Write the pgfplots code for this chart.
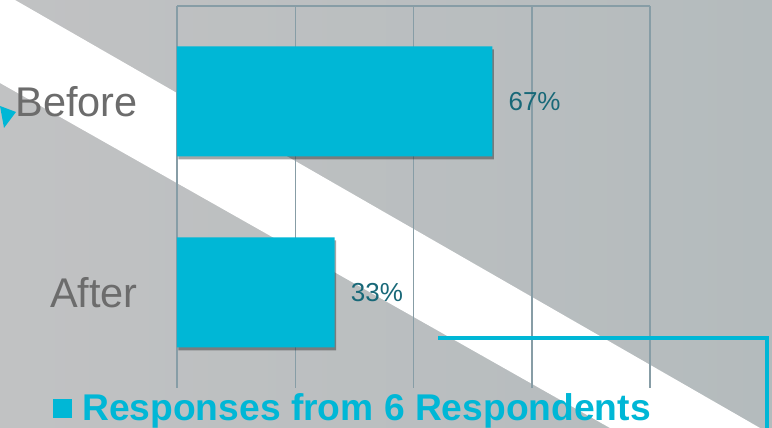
\documentclass[border=0pt]{standalone}
\usepackage{pgfplots}
\pgfplotsset{compat=1.18}
\usepackage{fontspec}
\setmainfont{Liberation Sans}
\usetikzlibrary{shadows}
\definecolor{barcyan}{RGB}{0,183,214}
\definecolor{gridc}{RGB}{135,157,166}
\definecolor{labgray}{RGB}{108,108,108}
\definecolor{valc}{RGB}{24,104,120}
\definecolor{bgl}{RGB}{193,194,195}
\definecolor{bgr}{RGB}{180,187,189}
\begin{document}
\begin{tikzpicture}
\useasboundingbox (0pt,0pt) rectangle (772pt,428pt);
\clip (0pt,0pt) rectangle (772pt,428pt);
\shade[left color=bgl, right color=bgr] (0pt,0pt) rectangle (772pt,428pt);
\fill[white] (0pt,428pt) -- (15pt,428pt) -- (760pt,0pt) -- (610pt,0pt) -- (0pt,345pt) -- cycle;
\fill[barcyan] (0pt,322pt) -- (16pt,316pt) -- (4pt,300pt) -- cycle;
\begin{axis}[
  at={(177pt,40pt)}, anchor=south west, scale only axis, width=473pt, height=382pt,
  xbar, bar width=110pt,
  xmin=0, xmax=100, ymin=-0.5, ymax=1.5,
  xtick={0,25,50,75,100}, xticklabels={},
  ytick={0,1}, yticklabels={After,Before},
  xmajorgrids, major grid style={gridc, line width=1.5pt},
  axis line style={draw=none}, major tick length=0pt,
  extra y ticks={1.5}, extra y tick labels={},
  extra y tick style={grid=major, major grid style={gridc, line width=2pt}},
  yticklabel style={font=\fontsize{41.5}{46}\selectfont, text=labgray, inner sep=0pt, xshift=-39pt},
  /pgf/number format/assume math mode=true,
  nodes near coords={\pgfmathprintnumber[fixed,precision=0,assume math mode=true]{\pgfplotspointmeta}\%},
  point meta=x,
  every node near coord/.append style={font=\fontsize{26}{30}\selectfont, text=valc, anchor=west, inner sep=0pt, xshift=16pt},
  legend style={at={(axis description cs:-0.262,-0.052)}, anchor=west, draw=none, fill=none, inner sep=0pt,
    font=\bfseries\fontsize{37.2}{41}\selectfont, text=barcyan, /tikz/column sep=10pt, nodes={inner sep=0pt}},
  legend image code/.code={\pgfpathrectangle{\pgfpoint{0pt}{-10pt}}{\pgfpoint{19pt}{19pt}}\pgfsetfillcolor{barcyan}\pgfusepath{fill}},
]
\addplot[fill=barcyan, draw=none, drop shadow={shadow xshift=1.5pt, shadow yshift=-3pt, opacity=0.35, fill=black}] coordinates {(66.67,1) (33.33,0)};
\addlegendentry{Responses from 6 Respondents}
\end{axis}
\draw[barcyan, line width=4pt] (438pt,90pt) -- (767pt,90pt) -- (767pt,-5pt);
\end{tikzpicture}
\end{document}
